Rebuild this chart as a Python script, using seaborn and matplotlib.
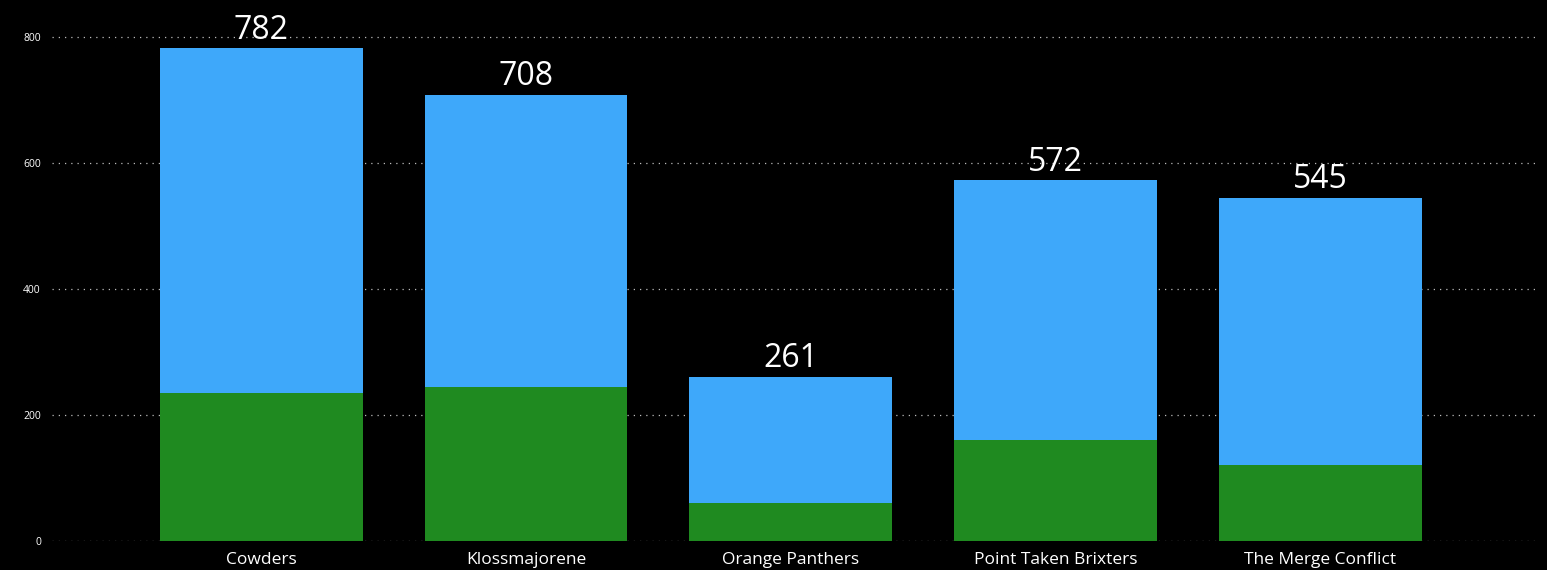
import pandas as pd
import matplotlib
matplotlib.use('Agg')
import matplotlib.pyplot as plt
import seaborn as sns

# Data
teams = ['Cowders', 'Klossmajorene', 'Orange Panthers', 'Point Taken Brixters', 'The Merge Conflict']
totals = [782, 708, 261, 572, 545]
lower = [235, 245, 61, 160, 120]

blue = '#3ea8fa'
green = '#1f8a20'

sns.set_style('dark')
plt.rcParams['font.family'] = ['Open Sans', 'DejaVu Sans']

df = pd.DataFrame({'team': teams, 'total': totals, 'lower': lower})

fig = plt.figure(figsize=(15.47, 5.70), dpi=100, facecolor='black')
ax = fig.add_axes([52 / 1547, 29 / 570, (1535 - 52) / 1547, (541 - 16) / 570])
ax.set_facecolor('black')

sns.barplot(data=df, x='team', y='total', color=blue, width=0.766, saturation=1,
            linewidth=0, ax=ax, zorder=2)
sns.barplot(data=df, x='team', y='lower', color=green, width=0.766, saturation=1,
            linewidth=0, ax=ax, zorder=3)

# Totals above the bars
ax.bar_label(ax.containers[0], labels=[str(v) for v in totals], padding=1,
             color='white', fontsize=23)

ax.set_xlim(-0.79, 4.81)
ax.set_ylim(0, 833)
ax.set_yticks([0, 200, 400, 600, 800])
ax.grid(axis='y', color='#bbbbbb', linestyle=(0, (1, 4)), linewidth=0.9, zorder=0)
ax.grid(axis='x', visible=False)
ax.set_axisbelow(True)

ax.tick_params(axis='x', colors='white', labelsize=12.5, length=0, pad=8)
ax.tick_params(axis='y', colors='white', labelsize=7.5, length=0, pad=8)
for s in ax.spines.values():
    s.set_visible(False)
ax.set_xlabel('')
ax.set_ylabel('')

fig.savefig('out.png', dpi=100, facecolor='black')
